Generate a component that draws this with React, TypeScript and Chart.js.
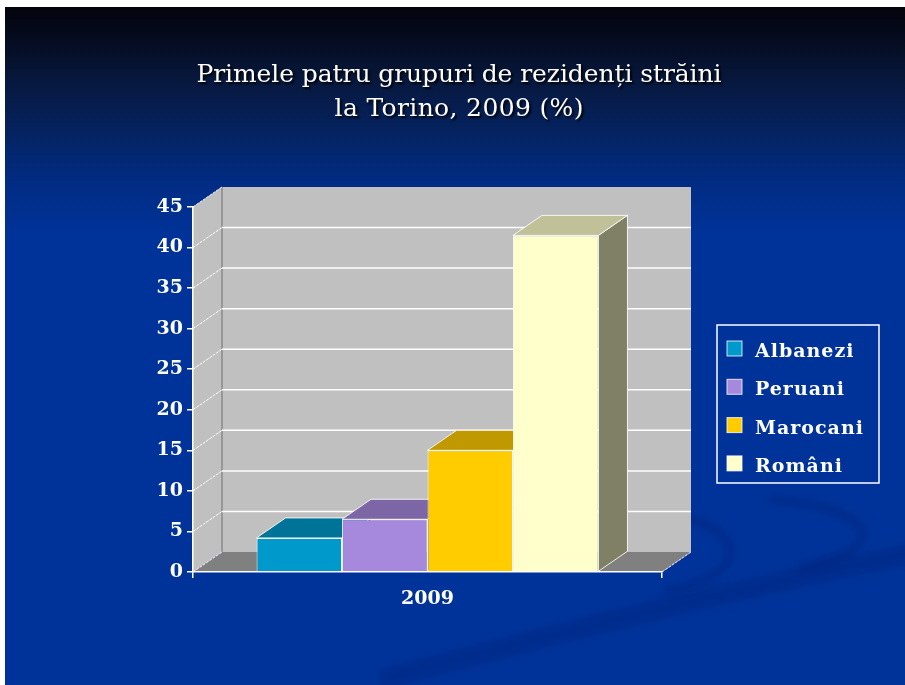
import React, { useEffect, useRef } from "react";
import { Chart, registerables } from "chart.js";

Chart.register(...registerables);

const categories = ["2009"];
const seriesLabels = ["Albanezi", "Peruani", "Marocani", "Români"];
const albanezi = [4.2];
const peruani = [6.5];
const marocani = [15.0];
const romani = [41.5];
const seriesValues = [albanezi, peruani, marocani, romani];
const frontColors = ["#0099CC", "#A688DC", "#FFCC00", "#FFFFCC"];
const topColors = ["#007399", "#7C66A5", "#C09900", "#C0C099"];
const sideColors = ["#004C66", "#53446E", "#806600", "#808066"];
const titleLines = ["Primele patru grupuri de rezidenți străini", "la Torino, 2009 (%)"];
const yMin = 0;
const yMax = 45;
const yStep = 5;

const DX = 29;
const DY = -20;

function fitText(ctx: any, text: string, x: number, y: number, target: number) {
  (ctx as any).letterSpacing = "0px";
  const w = ctx.measureText(text).width;
  const ls = (target - w) / Math.max(1, text.length - 1);
  (ctx as any).letterSpacing = ls.toFixed(2) + "px";
  ctx.fillText(text, x + ls / 2, y);
  (ctx as any).letterSpacing = "0px";
}

const threeD = {
  id: "threeD",
  beforeDraw(chart: any) {
    const ctx = chart.ctx;
    const W = chart.width;
    const H = chart.height;
    ctx.save();
    ctx.fillStyle = "#ffffff";
    ctx.fillRect(0, 0, W, H);
    const g = ctx.createLinearGradient(0, 7, 0, H);
    g.addColorStop(0, "#03040c");
    g.addColorStop(0.05, "#050c20");
    g.addColorStop(0.11, "#07183e");
    g.addColorStop(0.18, "#05225e");
    g.addColorStop(0.26, "#012c84");
    g.addColorStop(0.34, "#003399");
    g.addColorStop(1, "#003399");
    ctx.fillStyle = g;
    ctx.fillRect(5, 7, W - 5, H - 7);

    // subtle swooshes
    ctx.save();
    ctx.beginPath();
    ctx.rect(5, 7, W - 5, H - 7);
    ctx.clip();
    (ctx as any).filter = "blur(3px)";
    ctx.strokeStyle = "rgba(0,22,100,0.22)";
    ctx.lineWidth = 20;
    ctx.lineCap = "butt";
    ctx.beginPath();
    ctx.moveTo(380, 680);
    ctx.quadraticCurveTo(680, 600, 920, 552);
    ctx.stroke();
    ctx.lineWidth = 10;
    ctx.strokeStyle = "rgba(0,22,100,0.22)";
    ctx.beginPath();
    ctx.ellipse(640, 552, 90, 40, 0, -1.2, 1.3);
    ctx.stroke();
    ctx.beginPath();
    ctx.ellipse(750, 535, 112, 36, 0, -1.4, 1.1);
    ctx.stroke();
    ctx.restore();
    ctx.restore();

    const { left, right, top, bottom } = chart.chartArea;
    const yScale = chart.scales.y;
    ctx.save();
    // back wall
    ctx.fillStyle = "#c0c0c0";
    ctx.fillRect(left + DX, top + DY, right - left, bottom - top);
    // left wall
    ctx.beginPath();
    ctx.moveTo(left, bottom);
    ctx.lineTo(left, top);
    ctx.lineTo(left + DX, top + DY);
    ctx.lineTo(left + DX, bottom + DY);
    ctx.closePath();
    ctx.fill();
    // floor
    ctx.fillStyle = "#808080";
    ctx.beginPath();
    ctx.moveTo(left, bottom);
    ctx.lineTo(right, bottom);
    ctx.lineTo(right + DX, bottom + DY);
    ctx.lineTo(left + DX, bottom + DY);
    ctx.closePath();
    ctx.fill();
    // back-left edge
    ctx.strokeStyle = "#8a8a8a";
    ctx.lineWidth = 1.5;
    ctx.beginPath();
    ctx.moveTo(left + DX, top + DY);
    ctx.lineTo(left + DX, bottom + DY);
    ctx.stroke();
    // grid lines
    ctx.strokeStyle = "#ffffff";
    yScale.ticks.forEach((t: any) => {
      const y = yScale.getPixelForValue(t.value);
      if (t.value > yMin && t.value < yMax) {
        ctx.lineWidth = 1.5;
        ctx.beginPath();
        ctx.moveTo(left + DX, y + DY);
        ctx.lineTo(right + DX, y + DY);
        ctx.stroke();
      }
      if (t.value > yMin) {
        ctx.lineWidth = 1;
        ctx.setLineDash([3, 1]);
        ctx.beginPath();
        ctx.moveTo(left, y);
        ctx.lineTo(left + DX, y + DY);
        ctx.stroke();
        ctx.setLineDash([]);
      }
    });
    // floor edges
    ctx.lineWidth = 1;
    ctx.setLineDash([3, 1]);
    ctx.beginPath();
    ctx.moveTo(left, bottom);
    ctx.lineTo(left + DX, bottom + DY);
    ctx.moveTo(right, bottom);
    ctx.lineTo(right + DX, bottom + DY);
    ctx.stroke();
    ctx.setLineDash([]);
    ctx.restore();
  },
  beforeDatasetsDraw(chart: any) {
    const ctx = chart.ctx;
    ctx.save();
    chart.data.datasets.forEach((ds: any, i: number) => {
      const meta = chart.getDatasetMeta(i);
      meta.data.forEach((el: any) => {
        const x0 = el.x - el.width / 2;
        const x1 = el.x + el.width / 2;
        const y = el.y;
        const base = el.base;
        ctx.strokeStyle = "rgba(255,255,255,0.85)";
        ctx.lineWidth = 1;
        // side
        ctx.fillStyle = sideColors[i];
        ctx.beginPath();
        ctx.moveTo(x1, y);
        ctx.lineTo(x1 + DX, y + DY);
        ctx.lineTo(x1 + DX, base + DY);
        ctx.lineTo(x1, base);
        ctx.closePath();
        ctx.fill();
        ctx.stroke();
        // top
        ctx.fillStyle = topColors[i];
        ctx.beginPath();
        ctx.moveTo(x0, y);
        ctx.lineTo(x1, y);
        ctx.lineTo(x1 + DX, y + DY);
        ctx.lineTo(x0 + DX, y + DY);
        ctx.closePath();
        ctx.fill();
        ctx.stroke();
      });
    });
    ctx.restore();
  },
  afterDraw(chart: any) {
    const ctx = chart.ctx;
    ctx.save();
    // title
    ctx.font = "25px 'DejaVu Serif'";
    ctx.textAlign = "center";
    ctx.textBaseline = "alphabetic";
    ctx.fillStyle = "#ffffff";
    ctx.shadowColor = "rgba(0,0,0,0.9)";
    ctx.shadowOffsetX = 2;
    ctx.shadowOffsetY = 2;
    ctx.shadowBlur = 2;
    fitText(ctx, titleLines[0], 459, 82, 525);
    fitText(ctx, titleLines[1], 459, 116, 249);
    ctx.restore();

    // legend
    ctx.save();
    ctx.strokeStyle = "#ffffff";
    ctx.lineWidth = 1.5;
    ctx.strokeRect(717, 325, 162, 158);
    ctx.font = "bold 19px 'DejaVu Serif'";
    (ctx as any).letterSpacing = "1px";
    ctx.textAlign = "left";
    ctx.textBaseline = "alphabetic";
    chart.data.datasets.forEach((ds: any, i: number) => {
      const base = 357 + i * 38.3;
      ctx.fillStyle = frontColors[i];
      ctx.fillRect(727, base - 16, 15, 15);
      ctx.strokeStyle = "rgba(255,255,255,0.8)";
      ctx.lineWidth = 1;
      ctx.strokeRect(727, base - 16, 15, 15);
      ctx.fillStyle = "#ffffff";
      ctx.fillText(ds.label, 755, base);
    });
    ctx.restore();
  },
};

export default function App() {
  const ref = useRef<HTMLCanvasElement | null>(null);
  useEffect(() => {
    document.body.style.margin = "0";
    const canvas = ref.current!;
    const chart = new Chart(canvas, {
      type: "bar",
      data: {
        labels: categories,
        datasets: seriesLabels.map((label, i) => ({
          label,
          data: seriesValues[i],
          backgroundColor: frontColors[i],
          borderColor: "rgba(255,255,255,0.85)",
          borderWidth: 1,
          barPercentage: 1,
          categoryPercentage: 0.729,
        })),
      },
      options: {
        responsive: false,
        animation: false,
        devicePixelRatio: 1,
        layout: { padding: { left: 0, top: 207, right: 243, bottom: 0 } },
        plugins: {
          legend: { display: false },
          title: { display: false },
          tooltip: { enabled: false },
        },
        scales: {
          x: {
            afterFit: (s: any) => {
              s.height = 113;
            },
            grid: {
              drawOnChartArea: false,
              drawTicks: true,
              tickLength: 6,
              color: "#ffffff",
              lineWidth: 1.5,
            },
            border: { display: true, color: "#ffffff", width: 1.5, z: 1 },
            ticks: {
              color: "#ffffff",
              padding: 10,
              font: { family: "'DejaVu Serif'", size: 19, weight: "bold" },
            },
          },
          y: {
            min: yMin,
            max: yMax,
            afterFit: (s: any) => {
              s.width = 193;
            },
            grid: {
              drawOnChartArea: false,
              drawTicks: true,
              tickLength: 6,
              color: "#ffffff",
              lineWidth: 1.5,
            },
            border: { display: true, color: "#ffffff", width: 1.5, z: 1 },
            ticks: {
              stepSize: yStep,
              color: "#ffffff",
              padding: 4,
              font: { family: "'DejaVu Serif'", size: 19, weight: "bold" },
            },
          },
        },
      },
      plugins: [threeD],
    } as any);
    return () => chart.destroy();
  }, []);
  return (
    <div style={{ width: 905, height: 685, position: "relative" }}>
      <canvas ref={ref} width={905} height={685} style={{ position: "absolute", left: 0, top: 0, width: 905, height: 685 }} />
    </div>
  );
}
